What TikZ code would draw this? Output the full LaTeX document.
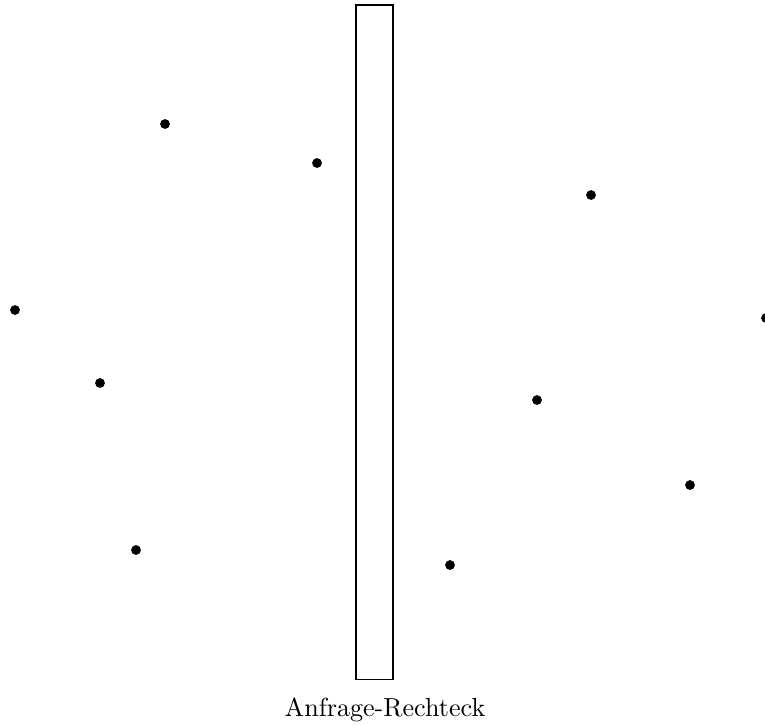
\documentclass[tikz,border=0pt]{standalone}
\begin{document}
\begin{tikzpicture}[x=0.4386pt,y=-0.4386pt,
  pt/.style={circle,fill=black,inner sep=0pt,minimum size=4.3pt},
  qlabel/.style={anchor=base,scale=1.145}]
\useasboundingbox (0,0) rectangle (765,725);
\node[pt] (p1) at (165,124) {};
\node[pt] (p2) at (317,163) {};
\node[pt] (p3) at (15,310) {};
\node[pt] (p4) at (100,383) {};
\node[pt] (p5) at (136,550) {};
\node[pt] (p6) at (591,195) {};
\node[pt] (p7) at (766,318) {};
\node[pt] (p8) at (537,400) {};
\node[pt] (p9) at (690,485) {};
\node[pt] (p10) at (450,565) {};
\draw[line width=0.45pt] (356,5) rectangle (393,679);
\node[qlabel] (lbl) at (385,716) {Anfrage-Rechteck};
\end{tikzpicture}
\end{document}
